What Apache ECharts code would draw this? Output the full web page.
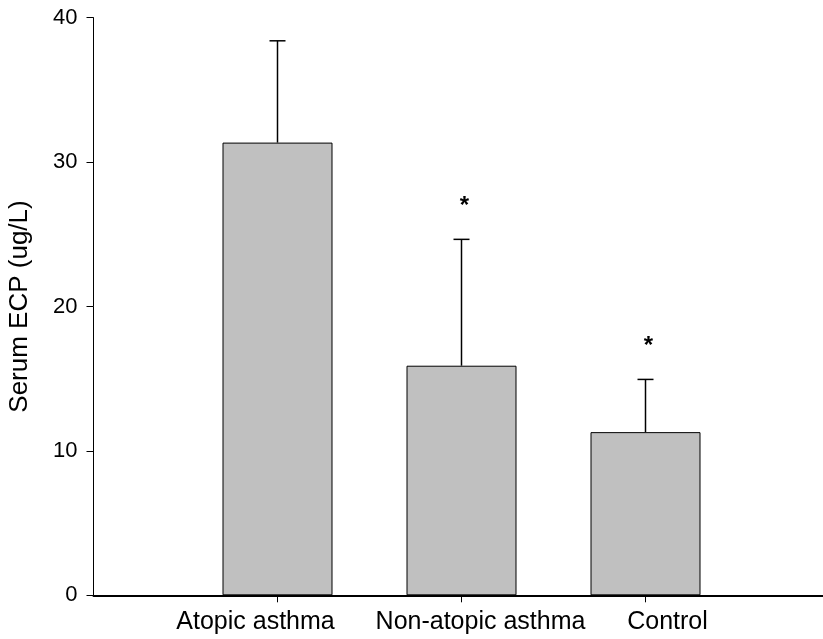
<!DOCTYPE html>
<html>
<head>
<meta charset="utf-8">
<title>Serum ECP</title>
<script src="https://cdn.jsdelivr.net/npm/echarts@6/dist/echarts.min.js"></script>
<style>
  html, body { margin: 0; padding: 0; background: #fff; }
  #chart { width: 823px; height: 639px; }
</style>
</head>
<body>
<div id="chart"></div>
<script>
// Serum ECP by patient group: mean with upper SD whisker
const categories = ['Atopic asthma', 'Non-atopic asthma', 'Control'];
const meanECP = [31.35, 15.9, 11.3];
const sdECP = [7.05, 8.75, 3.65];
const significance = ['', '*', '*'];
const yTicks = [0, 10, 20, 30, 40];

const FONT = '"Liberation Sans", Arial, Helvetica, sans-serif';

// groups sit at x = 1, 2, 3 on a 0..4 axis
const xPos = categories.map((c, i) => i + 1);

const barData = categories.map((c, i) => [xPos[i], meanECP[i]]);
const errData = categories.map((c, i) => [xPos[i], meanECP[i], meanECP[i] + sdECP[i], i]);

// horizontal nudge of each group label relative to its tick (px)
const labelShift = [-22, 19, 22];
const richLabels = {};
labelShift.forEach((s, i) => {
  richLabels['c' + i] = {
    fontFamily: FONT,
    fontSize: 25,
    color: '#000',
    padding: s < 0 ? [0, -2 * s, 0, 0] : [0, 0, 0, 2 * s]
  };
});

const chart = echarts.init(document.getElementById('chart'), null, { renderer: 'canvas' });

chart.setOption({
  animation: false,
  backgroundColor: '#ffffff',
  grid: { left: 93.5, right: -6.5, top: 17.7, bottom: 43.7, outerBoundsMode: 'none' },
  xAxis: {
    type: 'value',
    min: 0,
    max: 4,
    interval: 1,
    splitLine: { show: false },
    axisLine: { show: true, onZero: false, lineStyle: { color: '#000', width: 2 } },
    axisTick: {
      show: true, inside: false, length: 7,
      customValues: xPos,
      lineStyle: { color: '#000', width: 1 }
    },
    axisLabel: {
      show: true,
      customValues: xPos,
      margin: 14,
      color: '#000',
      fontFamily: FONT,
      fontSize: 25,
      rich: richLabels,
      formatter: v => {
        const i = Math.round(v) - 1;
        return categories[i] ? '{c' + i + '|' + categories[i] + '}' : '';
      }
    }
  },
  yAxis: {
    type: 'value',
    min: yTicks[0],
    max: yTicks[yTicks.length - 1],
    interval: 10,
    name: 'Serum ECP (ug/L)',
    nameLocation: 'middle',
    nameGap: 61,
    nameTextStyle: { color: '#000', fontFamily: FONT, fontSize: 26 },
    splitLine: { show: false },
    axisLine: { show: true, lineStyle: { color: '#000', width: 1 } },
    axisTick: { show: true, inside: false, length: 7, lineStyle: { color: '#000', width: 1 } },
    axisLabel: {
      margin: 16,
      color: '#000',
      fontFamily: FONT,
      fontSize: 22,
      formatter: v => (yTicks.indexOf(v) >= 0 ? String(v) : '')
    }
  },
  series: [
    {
      type: 'bar',
      data: barData,
      barWidth: 110,
      itemStyle: { color: '#c0c0c0', borderColor: '#000', borderWidth: 1 },
      z: 2
    },
    {
      type: 'custom',
      data: errData,
      z: 3,
      renderItem: function (params, api) {
        const x = api.value(0);
        const base = api.coord([x, api.value(1)]);
        const top = api.coord([x, api.value(2)]);
        const idx = api.value(3);
        const lineStyle = { stroke: '#000', lineWidth: 1.5 };
        const children = [
          { type: 'line', shape: { x1: base[0], y1: base[1], x2: top[0], y2: top[1] }, style: lineStyle },
          { type: 'line', shape: { x1: top[0] - 8, y1: top[1], x2: top[0] + 8, y2: top[1] }, style: lineStyle }
        ];
        if (significance[idx]) {
          children.push({
            type: 'text',
            x: top[0] + 3,
            y: top[1] - 33,
            style: {
              text: significance[idx],
              fill: '#000',
              font: 'bold 24px ' + FONT,
              align: 'center',
              verticalAlign: 'middle'
            }
          });
        }
        return { type: 'group', children: children };
      }
    }
  ]
});
</script>
</body>
</html>
